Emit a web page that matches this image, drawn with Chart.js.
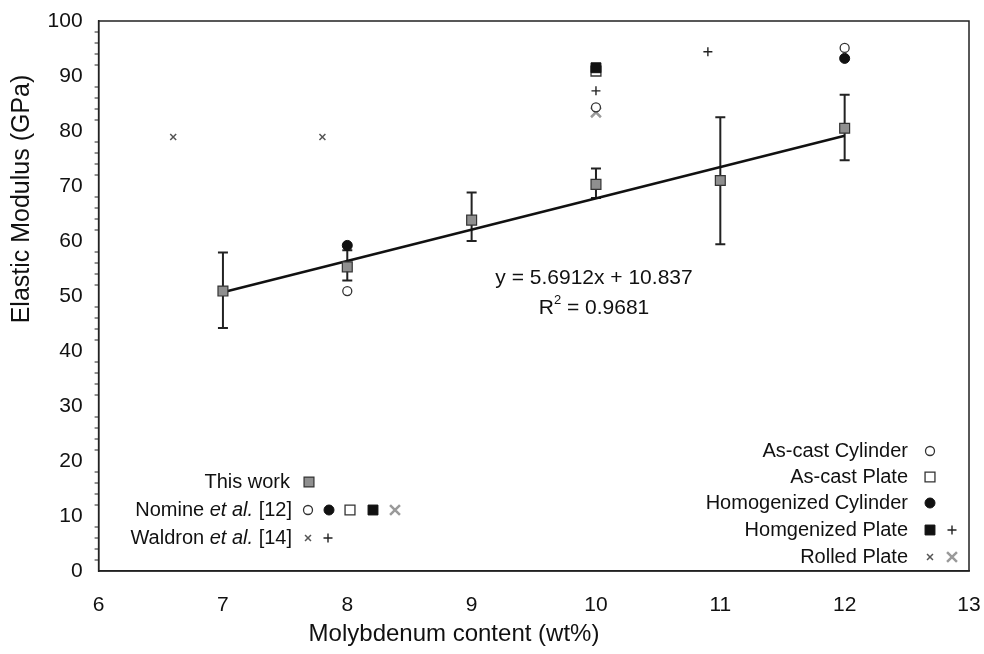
<!DOCTYPE html>
<html>
<head>
<meta charset="utf-8">
<script src="https://cdn.jsdelivr.net/npm/chart.js@4.4.0/dist/chart.umd.min.js"></script>
<style>
  html, body { margin: 0; padding: 0; background: #fff; }
  #wrap { width: 984px; height: 654px; }
</style>
</head>
<body>
<div id="wrap"><canvas id="myChart" width="984" height="654"></canvas></div>
<script>
// datos
const moContent = [7, 8, 9, 10, 11, 12];
const thisWork = [50.9, 55.3, 63.8, 70.3, 71.0, 80.5];
const errLow = [44.2, 52.8, 60.0, 67.8, 59.4, 74.7];
const errHigh = [57.9, 58.3, 68.8, 73.2, 82.5, 86.6];

const asCastCylX = [8, 10, 12];
const asCastCylY = [50.9, 84.3, 95.1];
const asCastPlateX = [10];
const asCastPlateY = [90.9];
const homCylX = [8, 12];
const homCylY = [59.2, 93.2];
const homPlateX = [10];
const homPlateY = [91.5];
const rolledNomX = [10];
const rolledNomY = [83.4];

const waldronRolledX = [6.6, 7.8];
const waldronRolledY = [78.9, 78.9];
const waldronHomX = [10, 10.9];
const waldronHomY = [87.3, 94.4];

// linea de tendencia y = 5.6912x + 10.837
const trendX = [7, 12];
const trendY = [50.67, 79.13];

const xTicks = [6, 7, 8, 9, 10, 11, 12, 13];
const yTicks = [0, 10, 20, 30, 40, 50, 60, 70, 80, 90, 100];

const FONT = "'Liberation Sans', Arial, sans-serif";

function pts(xs, ys) {
  return xs.map((x, i) => ({ x: x, y: ys[i] }));
}

// estilos de los marcadores
const markers = {
  work: { pointStyle: "rect", radius: 7, fill: "#8f8f8f", stroke: "#333", width: 1.2 },
  openCircle: { pointStyle: "circle", radius: 4.5, fill: "#fff", stroke: "#333", width: 1.3 },
  fullCircle: { pointStyle: "circle", radius: 5, fill: "#111", stroke: "#111", width: 1 },
  openSquare: { pointStyle: "rect", radius: 7, fill: "#fff", stroke: "#333", width: 1.3 },
  fullSquare: { pointStyle: "rect", radius: 7, fill: "#111", stroke: "#111", width: 1 },
  bigX: { pointStyle: "crossRot", radius: 7, fill: "#999", stroke: "#9a9a9a", width: 2.5 },
  smallX: { pointStyle: "crossRot", radius: 4.2, fill: "#555", stroke: "#555", width: 1.5 },
  plus: { pointStyle: "cross", radius: 4.5, fill: "#222", stroke: "#222", width: 1.4 }
};

function ds(label, data, m) {
  return {
    label: label,
    data: data,
    showLine: false,
    pointStyle: m.pointStyle,
    pointRadius: m.radius,
    pointHoverRadius: m.radius,
    backgroundColor: m.fill,
    borderColor: m.stroke,
    pointBorderWidth: m.width
  };
}

function drawMarker(c, m, x, y) {
  c.save();
  c.fillStyle = m.fill;
  c.strokeStyle = m.stroke;
  c.lineWidth = m.width;
  const r = m.radius;
  c.beginPath();
  if (m.pointStyle === "circle") {
    c.arc(x, y, r, 0, Math.PI * 2);
    c.fill();
    c.stroke();
  } else if (m.pointStyle === "rect") {
    const s = Math.SQRT1_2 * r;
    c.rect(x - s, y - s, 2 * s, 2 * s);
    c.fill();
    c.stroke();
  } else if (m.pointStyle === "crossRot") {
    const s = Math.cos(Math.PI / 4) * r;
    c.moveTo(x - s, y - s); c.lineTo(x + s, y + s);
    c.moveTo(x - s, y + s); c.lineTo(x + s, y - s);
    c.stroke();
  } else if (m.pointStyle === "cross") {
    c.moveTo(x - r, y); c.lineTo(x + r, y);
    c.moveTo(x, y - r); c.lineTo(x, y + r);
    c.stroke();
  }
  c.restore();
}

// texto "Nombre et al. [n]" alineado a la derecha
function authorLine(c, name, ref, right, y) {
  c.textAlign = "left";
  c.font = "20px " + FONT;
  const wRef = c.measureText(ref).width;
  const wName = c.measureText(name + " ").width;
  c.font = "italic 20px " + FONT;
  const wEt = c.measureText("et al. ").width;
  let x = right - wRef;
  c.font = "20px " + FONT;
  c.fillText(ref, x, y);
  x -= wEt;
  c.font = "italic 20px " + FONT;
  c.fillText("et al. ", x, y);
  x -= wName;
  c.font = "20px " + FONT;
  c.fillText(name + " ", x, y);
}

// plugin: marco, barras de error, ticks menores, titulos y leyendas
const extras = {
  id: "extras",
  beforeDatasetsDraw(chart) {
    const c = chart.ctx;
    const xs = chart.scales.x, ys = chart.scales.y;
    c.save();
    c.strokeStyle = "#222";
    c.lineWidth = 2;
    for (let i = 0; i < moContent.length; i++) {
      const px = xs.getPixelForValue(moContent[i]);
      const top = ys.getPixelForValue(errHigh[i]);
      const bot = ys.getPixelForValue(errLow[i]);
      c.beginPath();
      c.moveTo(px, top); c.lineTo(px, bot);
      c.moveTo(px - 5, top); c.lineTo(px + 5, top);
      c.moveTo(px - 5, bot); c.lineTo(px + 5, bot);
      c.stroke();
    }
    c.restore();
  },
  afterDraw(chart) {
    const c = chart.ctx;
    const a = chart.chartArea;
    const ys = chart.scales.y;
    c.save();
    // marco
    c.strokeStyle = "#222";
    c.lineWidth = 1.5;
    c.strokeRect(a.left, a.top, a.right - a.left, a.bottom - a.top);
    // ticks menores del eje y
    c.lineWidth = 1;
    c.beginPath();
    for (let v = 0; v <= 100; v += 2) {
      if (v % 10 === 0) continue;
      const py = ys.getPixelForValue(v);
      c.moveTo(a.left - 4, py); c.lineTo(a.left, py);
    }
    c.stroke();

    c.fillStyle = "#111";
    // titulos de ejes
    c.font = "24px " + FONT;
    c.textAlign = "center";
    c.textBaseline = "middle";
    c.fillText("Molybdenum content (wt%)", 454, 634);
    c.save();
    c.translate(22, 199);
    c.rotate(-Math.PI / 2);
    c.font = "25px " + FONT;
    c.fillText("Elastic Modulus (GPa)", 0, 0);
    c.restore();

    // ecuacion
    c.font = "21px " + FONT;
    c.fillText("y = 5.6912x + 10.837", 594, 278);
    c.textAlign = "left";
    const wR = c.measureText("R").width;
    const wRest = c.measureText(" = 0.9681").width;
    c.font = "13px " + FONT;
    const w2 = c.measureText("2").width;
    const x0 = 594 - (wR + w2 + wRest) / 2;
    c.font = "21px " + FONT;
    c.fillText("R", x0, 308);
    c.fillText(" = 0.9681", x0 + wR + w2, 308);
    c.font = "13px " + FONT;
    c.fillText("2", x0 + wR, 300);

    // leyenda izquierda
    c.font = "20px " + FONT;
    c.textAlign = "right";
    c.fillText("This work", 290, 482);
    drawMarker(c, markers.work, 309, 482);

    const nomY = 510;
    authorLine(c, "Nomine", "[12]", 292, nomY);
    drawMarker(c, markers.openCircle, 308, nomY);
    drawMarker(c, markers.fullCircle, 329, nomY);
    drawMarker(c, markers.openSquare, 350, nomY);
    drawMarker(c, markers.fullSquare, 373, nomY);
    drawMarker(c, markers.bigX, 395, nomY);

    const walY = 538;
    authorLine(c, "Waldron", "[14]", 292, walY);
    drawMarker(c, markers.smallX, 308, walY);
    drawMarker(c, markers.plus, 328, walY);

    // leyenda derecha
    c.font = "20px " + FONT;
    c.textAlign = "right";
    const rightRows = [
      ["As-cast Cylinder", 451, [markers.openCircle]],
      ["As-cast Plate", 477, [markers.openSquare]],
      ["Homogenized Cylinder", 503, [markers.fullCircle]],
      ["Homgenized Plate", 530, [markers.fullSquare, markers.plus]],
      ["Rolled Plate", 557, [markers.smallX, markers.bigX]]
    ];
    rightRows.forEach((row) => {
      c.fillText(row[0], 908, row[1]);
      row[2].forEach((m, j) => drawMarker(c, m, 930 + j * 22, row[1]));
    });
    c.restore();
  }
};

const ctx = document.getElementById("myChart");

const chart = new Chart(ctx, {
  type: "scatter",
  data: {
    datasets: [
      ds("This work", pts(moContent, thisWork), markers.work),
      ds("As-cast Cylinder", pts(asCastCylX, asCastCylY), markers.openCircle),
      ds("Homogenized Plate", pts(homPlateX, homPlateY), markers.fullSquare),
      ds("As-cast Plate", pts(asCastPlateX, asCastPlateY), markers.openSquare),
      ds("Homogenized Cylinder", pts(homCylX, homCylY), markers.fullCircle),
      ds("Rolled Plate", pts(rolledNomX, rolledNomY), markers.bigX),
      ds("Waldron Rolled", pts(waldronRolledX, waldronRolledY), markers.smallX),
      ds("Waldron Homogenized", pts(waldronHomX, waldronHomY), markers.plus),
      {
        type: "line",
        label: "Trend",
        data: pts(trendX, trendY),
        borderColor: "#111",
        borderWidth: 2.5,
        pointRadius: 0,
        fill: false
      }
    ]
  },
  options: {
    responsive: false,
    animation: false,
    events: [],
    layout: { padding: { top: 21, right: 15, left: 0, bottom: 0 } },
    plugins: { legend: { display: false }, tooltip: { enabled: false } },
    scales: {
      x: {
        type: "linear",
        min: 6,
        max: 13,
        afterBuildTicks: (s) => { s.ticks = xTicks.map((v) => ({ value: v })); },
        afterFit: (s) => { s.height = 83; s.paddingLeft = 0; s.paddingRight = 0; },
        grid: { display: false, drawTicks: true, tickLength: 7, tickColor: "#222", tickWidth: 1.5 },
        border: { display: true, color: "#222", width: 1.5 },
        ticks: { color: "#111", font: { size: 21, family: FONT }, padding: 15, maxRotation: 0 }
      },
      y: {
        type: "linear",
        min: 0,
        max: 100,
        afterBuildTicks: (s) => { s.ticks = yTicks.map((v) => ({ value: v })); },
        afterFit: (s) => { s.width = 98.6; s.paddingTop = 0; s.paddingBottom = 0; },
        grid: { display: false, drawTicks: true, tickLength: 8, tickColor: "#222", tickWidth: 1.5 },
        border: { display: true, color: "#222", width: 1.5 },
        ticks: { color: "#111", font: { size: 21, family: FONT }, padding: 8 }
      }
    }
  },
  plugins: [extras]
});
</script>
</body>
</html>
